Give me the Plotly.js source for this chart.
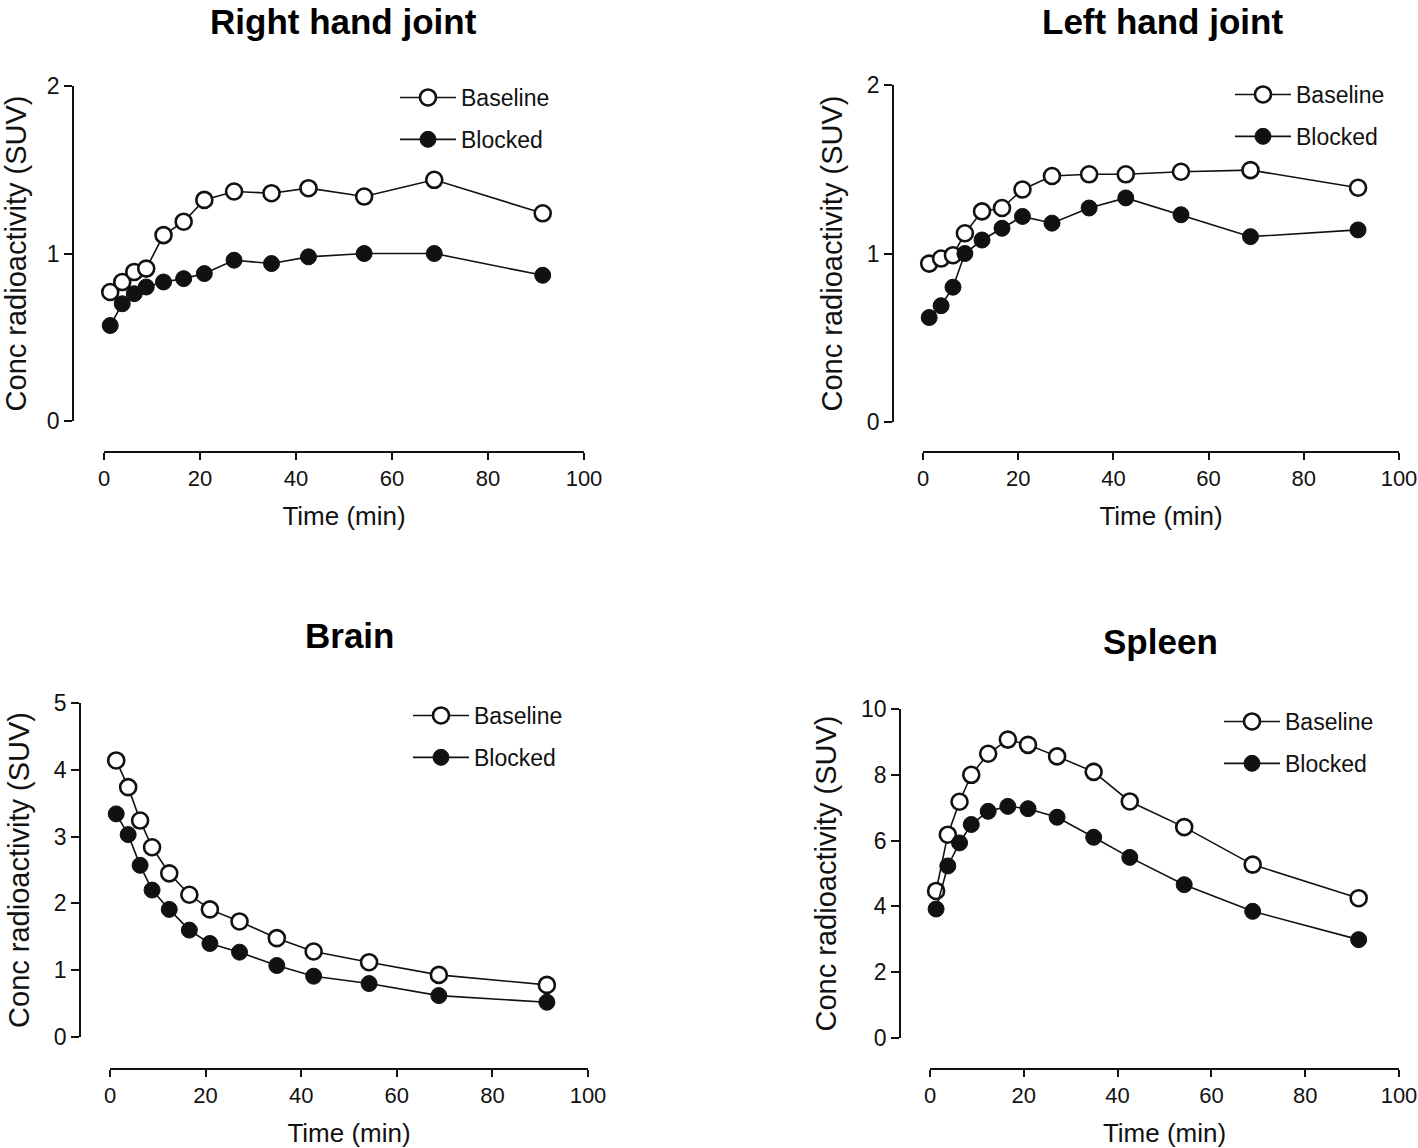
<!DOCTYPE html>
<html>
<head>
<meta charset="utf-8">
<script src="https://cdn.plot.ly/plotly-3.0.1.min.js"></script>
<style>html,body{margin:0;padding:0;background:#fff;}#chart{width:1418px;height:1148px;}</style>
</head>
<body>
<div id="chart"></div>
<script>
// ---- Data ----
const timeMin = [1.3, 3.8, 6.3, 8.8, 12.4, 16.6, 20.9, 27.1, 34.9, 42.6, 54.2, 68.8, 91.4];

const rightHandBaseline = [0.77, 0.83, 0.89, 0.91, 1.11, 1.19, 1.32, 1.37, 1.36, 1.39, 1.34, 1.44, 1.24];
const rightHandBlocked  = [0.57, 0.70, 0.76, 0.80, 0.83, 0.85, 0.88, 0.96, 0.94, 0.98, 1.00, 1.00, 0.87];

const leftHandBaseline  = [0.94, 0.97, 0.99, 1.12, 1.25, 1.27, 1.38, 1.46, 1.47, 1.47, 1.485, 1.495, 1.39];
const leftHandBlocked   = [0.62, 0.69, 0.80, 1.00, 1.08, 1.15, 1.22, 1.18, 1.27, 1.33, 1.23, 1.10, 1.14];

const brainBaseline     = [4.14, 3.74, 3.24, 2.84, 2.45, 2.13, 1.91, 1.73, 1.48, 1.28, 1.12, 0.93, 0.78];
const brainBlocked      = [3.34, 3.03, 2.57, 2.20, 1.91, 1.60, 1.40, 1.27, 1.07, 0.91, 0.80, 0.62, 0.52];

const spleenBaseline    = [4.47, 6.18, 7.18, 8.00, 8.64, 9.07, 8.91, 8.56, 8.09, 7.19, 6.41, 5.27, 4.25];
const spleenBlocked     = [3.92, 5.23, 5.93, 6.49, 6.89, 7.04, 6.97, 6.71, 6.10, 5.49, 4.66, 3.85, 2.99];

const panelTitles = ["Right hand joint", "Left hand joint", "Brain", "Spleen"];
const seriesNames = ["Baseline", "Blocked"];
const yRanges = [[0, 2], [0, 2], [0, 5], [0, 10]];
const yDticks = [1, 1, 1, 2];
const xTickVals = [0, 20, 40, 60, 80, 100];
const xTitle = "Time (min)";
const yTitle = "Conc radioactivity (SUV)";

// ---- Layout geometry (pixels) ----
const W = 1418, H = 1148;
const fx = v => v / W;
const fy = v => 1 - v / H;
const FONT = '"Liberation Sans", Arial, Helvetica, sans-serif';
const INK = '#111111';

const geo = [
  {xd: [104, 584], xPos: 452, yd: [86, 421], yPos: 73, title: [343, 0], leg: [427, 96]},
  {xd: [923, 1399], xPos: 452, yd: [85, 422], yPos: 893, title: [1162, 0], leg: [1262, 93]},
  {xd: [110, 588], xPos: 1069, yd: [703, 1037], yPos: 80, title: [349, 635], leg: [440, 714]},
  {xd: [930, 1399], xPos: 1069, yd: [709, 1038], yPos: 900, title: [1160, 641], leg: [1251, 720]}
];

const panelData = [
  [rightHandBaseline, rightHandBlocked],
  [leftHandBaseline, leftHandBlocked],
  [brainBaseline, brainBlocked],
  [spleenBaseline, spleenBlocked]
];

const traces = [];
const layout = {
  width: W, height: H,
  margin: {l: 0, r: 0, t: 0, b: 0},
  paper_bgcolor: '#ffffff', plot_bgcolor: 'rgba(0,0,0,0)',
  font: {family: FONT, color: INK, size: 20},
  showlegend: true,
  annotations: []
};

panelData.forEach((pair, i) => {
  const n = i + 1;
  const xa = 'x' + (n === 1 ? '' : n);
  const ya = 'y' + (n === 1 ? '' : n);
  const legName = 'legend' + (n === 1 ? '' : n);
  const g = geo[i];

  pair.forEach((vals, k) => {
    traces.push({
      type: 'scatter', mode: 'lines+markers',
      x: timeMin, y: vals,
      name: seriesNames[k],
      xaxis: xa, yaxis: ya,
      legend: legName,
      legendgroup: 'p' + n + 's' + k,
      cliponaxis: false,
      line: {color: INK, width: 1.6},
      marker: {
        symbol: 'circle', size: 16,
        color: k === 0 ? '#ffffff' : INK,
        line: {color: INK, width: k === 0 ? 2.6 : 1}
      },
      hoverinfo: 'x+y+name'
    });
  });

  layout['xaxis' + (n === 1 ? '' : n)] = {
    domain: [fx(g.xd[0]), fx(g.xd[1])],
    range: [0, 100],
    anchor: 'free', position: fy(g.xPos),
    tickvals: xTickVals,
    ticks: 'outside', ticklen: 7, tickwidth: 1.6, tickcolor: INK,
    showline: true, linecolor: INK, linewidth: 1.6,
    showgrid: false, zeroline: false,
    tickfont: {size: 22, family: FONT, color: INK},
    title: {text: xTitle, font: {size: 26, family: FONT, color: INK}, standoff: 16},
    fixedrange: true
  };
  layout['yaxis' + (n === 1 ? '' : n)] = {
    domain: [fy(g.yd[1]), fy(g.yd[0])],
    range: yRanges[i],
    dtick: yDticks[i], tick0: 0,
    anchor: 'free', position: fx(g.yPos),
    ticks: 'outside', ticklen: 8, tickwidth: 1.6, tickcolor: INK,
    showline: true, linecolor: INK, linewidth: 1.6,
    showgrid: false, zeroline: false,
    tickfont: {size: 23, family: FONT, color: INK},
    title: {text: yTitle, font: {size: 29, family: FONT, color: INK}, standoff: 15},
    fixedrange: true
  };
  layout[legName] = {
    x: fx(g.leg[0] - 32), y: fy(g.leg[1] - 20),
    xanchor: 'left', yanchor: 'top',
    bgcolor: 'rgba(0,0,0,0)', borderwidth: 0,
    font: {size: 23, family: FONT, color: INK},
    traceorder: 'grouped', tracegroupgap: 9,
    itemwidth: 56,
    itemclick: false, itemdoubleclick: false
  };
  const topTitle = g.title[1] === 0;
  layout.annotations.push({
    text: '<b>' + panelTitles[i] + '</b>',
    xref: 'paper', yref: 'paper',
    x: fx(g.title[0]), y: topTitle ? 1 : fy(g.title[1]),
    xanchor: 'center', yanchor: topTitle ? 'top' : 'middle',
    showarrow: false,
    font: {size: 35, family: FONT, color: '#000000'}
  });
});

Plotly.newPlot('chart', traces, layout, {displayModeBar: false, staticPlot: false, responsive: false});
</script>
</body>
</html>
